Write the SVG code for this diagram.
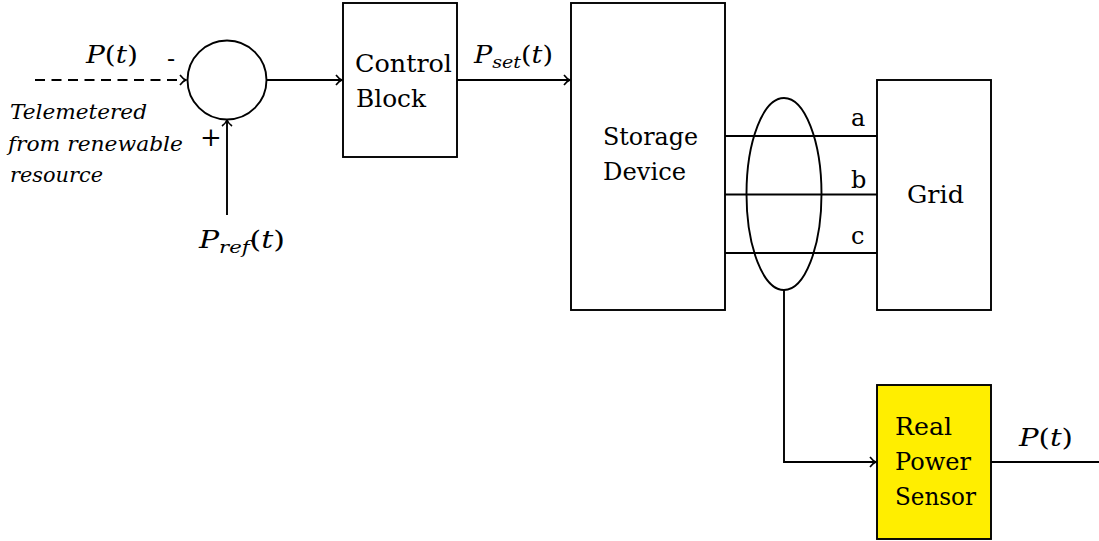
<svg xmlns="http://www.w3.org/2000/svg" width="1099" height="541" viewBox="0 0 1099 541">
<style>
.ln{fill:none;stroke:#000;stroke-width:1.9}
.bx{fill:#fff;stroke:#000;stroke-width:1.9}
.t{font-family:"DejaVu Serif","Noto Serif","Liberation Serif",serif;font-size:24px;fill:#000}
.it{font-style:italic}
.s{font-size:17px;font-style:italic}
.tel{font-family:"DejaVu Serif","Noto Serif","Liberation Serif",serif;font-size:20px;font-style:italic;fill:#000}
</style>
<defs>
<marker id="ar" markerWidth="12" markerHeight="12" refX="0" refY="0" viewBox="-8 -6 10 12" orient="auto" markerUnits="userSpaceOnUse">
<path d="M -6 -5 Q -3 -1 0 0 Q -3 1 -6 5" fill="none" stroke="#000" stroke-width="1.6"/>
</marker>
</defs>
<g id="connectors">
<line class="ln" x1="35" y1="80" x2="186" y2="80" stroke-dasharray="10 6.5" marker-end="url(#ar)"/>
<line class="ln" x1="227" y1="215" x2="227" y2="120" marker-end="url(#ar)"/>
<line class="ln" x1="266" y1="80" x2="342" y2="80" marker-end="url(#ar)"/>
<line class="ln" x1="457" y1="80" x2="570" y2="80" marker-end="url(#ar)"/>
<line class="ln" x1="725" y1="136" x2="877" y2="136"/>
<line class="ln" x1="725" y1="194.5" x2="877" y2="194.5"/>
<line class="ln" x1="725" y1="253" x2="877" y2="253"/>
<polyline class="ln" points="784,290 784,462 876,462" marker-end="url(#ar)"/>
<line class="ln" x1="991" y1="462" x2="1099" y2="462"/>
</g>
<g id="labels">
<text class="t" x="86" y="63" textLength="52" lengthAdjust="spacingAndGlyphs"><tspan class="it">P</tspan>(<tspan class="it">t</tspan>)</text>
<text class="t" x="167" y="67" style="font-size:24px">-</text>
<text class="t" x="200" y="146" style="font-size:26px">+</text>
<text class="tel" x="10" y="119" textLength="137" lengthAdjust="spacingAndGlyphs">Telemetered</text>
<text class="tel" x="8" y="151" textLength="175" lengthAdjust="spacingAndGlyphs">from renewable</text>
<text class="tel" x="10" y="182" textLength="93" lengthAdjust="spacingAndGlyphs">resource</text>
<text class="t" x="199" y="248" textLength="86" lengthAdjust="spacingAndGlyphs"><tspan class="it">P</tspan><tspan class="s" dy="5">ref</tspan><tspan dy="-5">(</tspan><tspan class="it">t</tspan>)</text>
<text class="t" x="474" y="63" textLength="79" lengthAdjust="spacingAndGlyphs"><tspan class="it">P</tspan><tspan class="s" dy="5">set</tspan><tspan dy="-5">(</tspan><tspan class="it">t</tspan>)</text>
<text class="t" x="851" y="126">a</text>
<text class="t" x="851" y="188">b</text>
<text class="t" x="851" y="244">c</text>
<text class="t" x="1019" y="446" textLength="54" lengthAdjust="spacingAndGlyphs"><tspan class="it">P</tspan>(<tspan class="it">t</tspan>)</text>
</g>
<g id="sum">
<circle class="bx" cx="227" cy="80" r="39.5"/>
</g>
<g id="control">
<rect class="bx" x="343" y="3" width="114" height="154"/>
<text class="t" x="355" y="72" textLength="97" lengthAdjust="spacingAndGlyphs">Control</text>
<text class="t" x="356" y="107" textLength="70" lengthAdjust="spacingAndGlyphs">Block</text>
</g>
<g id="storage">
<rect class="bx" x="571" y="3" width="154" height="307"/>
<text class="t" x="603" y="145" textLength="95" lengthAdjust="spacingAndGlyphs">Storage</text>
<text class="t" x="603" y="180" textLength="83" lengthAdjust="spacingAndGlyphs">Device</text>
</g>
<g id="grid">
<rect class="bx" x="877" y="80" width="114" height="230"/>
<text class="t" x="907" y="203" textLength="57" lengthAdjust="spacingAndGlyphs">Grid</text>
</g>
<g id="ct">
<ellipse class="ln" cx="784" cy="194" rx="37.5" ry="96"/>
</g>
<g id="sensor">
<rect x="877" y="385" width="114" height="154" fill="#ffee00" stroke="#000" stroke-width="1.9"/>
<text class="t" x="895" y="435" textLength="57" lengthAdjust="spacingAndGlyphs">Real</text>
<text class="t" x="895" y="470" textLength="76" lengthAdjust="spacingAndGlyphs">Power</text>
<text class="t" x="895" y="505" textLength="81" lengthAdjust="spacingAndGlyphs">Sensor</text>
</g>
</svg>
